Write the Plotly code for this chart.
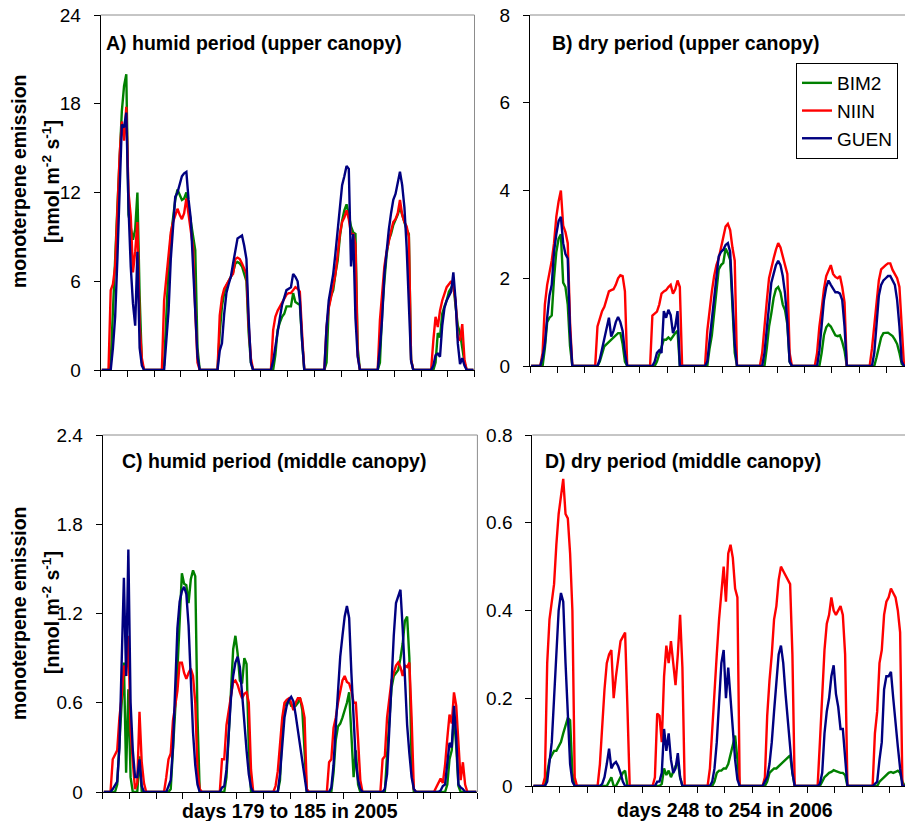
import plotly.graph_objects as go

W, H = 905, 821
FONT = "Liberation Sans, Arial, sans-serif"

SERIES = ["BIM2", "NIIN", "GUEN"]
COLORS = {"BIM2": "#008000", "NIIN": "#FF0000", "GUEN": "#000080"}
N_DAYS = 7
DAY_HOURS = list(range(4, 21))  # hours of each day whose (hourly-mean) values are listed; other hours are 0

# ---------------- Panel A: humid period, upper canopy (nmol m-2 s-1) ----------------
A_BIM2 = [
    [0.5, 4.5, 7.5, 11, 14, 17.5, 19.2, 20, 10.5, 9.5, 8.8, 9.5, 12, 5, 0.5, 0, 0],
    [0.3, 3.5, 7, 9, 10.5, 11.5, 12.2, 11.8, 11.5, 11.6, 12, 11, 10, 9, 8.1, 1.5, 0],
    [0, 2.5, 4.3, 5.2, 5.7, 6, 6.3, 6.6, 7.2, 7.3, 7.2, 7, 6.5, 6, 2.5, 0.5, 0],
    [0, 0, 1, 2.7, 3.2, 3.6, 3.8, 4.3, 4.3, 4.3, 5.2, 4.6, 4.5, 4.4, 2, 0, 0],
    [0, 0.5, 4.3, 5, 5.4, 6.5, 7.4, 9, 10.1, 10.8, 11.2, 10.5, 9.7, 9.3, 9.2, 1.5, 0],
    [0, 0.5, 4, 6, 7.8, 8.8, 9.2, 9.8, 10.1, 10.5, 11, 10.5, 9.9, 9.5, 9.2, 0.7, 0],
    [0, 0, 0.5, 2.5, 2.2, 3.8, 4.3, 4.7, 5.3, 5.6, 5.8, 4.3, 3, 2.5, 1.5, 0.5, 0],
]
A_NIIN = [
    [5.4, 5.8, 7, 11, 14.5, 16.8, 15.5, 17.8, 12, 10.4, 6.6, 8, 10, 3, 0.8, 0, 0],
    [4.7, 6.3, 8, 9.3, 10, 10.5, 10.9, 10.5, 10.2, 10.6, 11.6, 10.5, 9.5, 8.3, 4, 0.5, 0],
    [0, 3.7, 4.9, 5.5, 5.8, 6.1, 6.3, 6.5, 7.5, 7.6, 7.5, 7.2, 6.8, 6.5, 3, 0.8, 0],
    [0, 2.7, 3.6, 4, 4.3, 4.6, 4.8, 5.1, 5.2, 5.2, 5.4, 5.6, 5.5, 5.3, 2.5, 0, 0],
    [0, 2.9, 4.2, 4.9, 5.6, 6.5, 7.8, 9.2, 10, 10.3, 10.8, 10.2, 9.2, 9.2, 8.5, 1, 0],
    [0, 3.4, 5.5, 7, 8, 8.8, 9.4, 10, 10.2, 10.6, 11.5, 10.5, 10, 9.7, 9, 0.7, 0],
    [0, 2, 3.6, 2.9, 4, 4.7, 5.2, 5.6, 5.8, 6, 5.6, 4.7, 2.2, 2, 3.1, 0.7, 0],
]
A_GUEN = [
    [0, 1.5, 3.6, 7.5, 12, 16.6, 16.4, 17.4, 11, 7, 4.5, 3, 8, 1.5, 0.3, 0, 0],
    [0, 2, 4, 7.5, 10, 11.7, 12, 12.5, 13.1, 13.3, 13.4, 11.5, 10.2, 7, 3.5, 0.9, 0],
    [0, 1.3, 1.8, 3.8, 5.2, 5.8, 6.3, 7.2, 8.2, 8.9, 9, 9.1, 8.4, 7.5, 3.5, 0.5, 0],
    [0, 0.6, 1.6, 2.8, 3.5, 4.4, 4.9, 5.4, 5.5, 5.6, 6.5, 6.3, 6, 4.7, 2, 0, 0],
    [0, 2.9, 4.7, 5.6, 6.5, 7.9, 9.5, 11.2, 12.5, 13.1, 13.8, 13.6, 7, 9.2, 3.5, 0.9, 0],
    [0, 1.5, 3.5, 6.5, 8.3, 9.5, 10.6, 11.5, 11.9, 12.6, 13.4, 12.5, 11, 8.3, 5, 0.6, 0],
    [0, 0.3, 1, 1.1, 0.9, 3, 4.2, 4.7, 5, 5.3, 6.6, 4.7, 1.8, 0.4, 0.8, 0.3, 0],
]

# ---------------- Panel B: dry period, upper canopy ----------------
B_BIM2 = [
    [0, 0, 0.4, 1, 1.1, 1.15, 2, 2.6, 2.9, 3, 1.9, 1.8, 1.4, 0.45, 0, 0, 0],
    [0, 0, 0.1, 0.3, 0.45, 0.5, 0.55, 0.6, 0.67, 0.72, 0.75, 0.75, 0.5, 0.1, 0, 0, 0],
    [0, 0, 0, 0.1, 0.25, 0.45, 0.6, 0.6, 0.65, 0.6, 0.68, 0.75, 0.8, 0, 0, 0, 0],
    [0, 0, 0.4, 0.7, 1.2, 1.7, 2.2, 2.3, 2.35, 2.68, 2.57, 2.42, 1.5, 0.3, 0, 0, 0],
    [0, 0, 0, 0.4, 0.9, 1.2, 1.55, 1.75, 1.8, 1.68, 1.4, 1.27, 0.95, 0.1, 0, 0, 0],
    [0, 0, 0, 0.3, 0.7, 0.88, 0.95, 0.9, 0.78, 0.7, 0.68, 0.7, 0.55, 0.35, 0, 0, 0],
    [0, 0, 0, 0.2, 0.4, 0.65, 0.75, 0.76, 0.76, 0.72, 0.68, 0.6, 0.5, 0.3, 0.05, 0, 0],
]
B_NIIN = [
    [0, 0.3, 1.4, 1.85, 2.1, 2.4, 2.8, 3.4, 3.75, 4, 3.2, 3.05, 2.8, 1, 0, 0, 0],
    [0, 0.9, 1.1, 1.25, 1.35, 1.5, 1.7, 1.73, 1.75, 1.85, 2, 2.07, 2.05, 1.7, 0, 0, 0],
    [0, 1.15, 1.2, 1.24, 1.4, 1.65, 1.7, 1.73, 1.8, 1.85, 1.65, 1.75, 1.95, 1.8, 0, 0, 0],
    [0, 0.8, 1.3, 1.7, 2.05, 2.3, 2.45, 2.7, 2.95, 3.18, 3.24, 3.1, 2.7, 2.4, 0, 0, 0],
    [0, 0.3, 0.95, 1.47, 2, 2.25, 2.45, 2.65, 2.8, 2.7, 2.5, 2.35, 2.1, 0.3, 0, 0, 0],
    [0, 0.3, 0.9, 1.3, 1.75, 2.05, 2.2, 2.3, 2.1, 2.03, 2, 2.05, 1.8, 1.45, 0, 0, 0],
    [0, 0.4, 0.9, 1.4, 1.95, 2.2, 2.26, 2.3, 2.34, 2.34, 2.19, 2.1, 2, 1.8, 1, 0, 0],
]
B_GUEN = [
    [0, 0.2, 0.5, 1.1, 1.6, 1.85, 2.6, 3, 3.3, 3.4, 2.8, 2.55, 2.45, 0.8, 0, 0, 0],
    [0, 0, 0.15, 0.4, 0.6, 0.85, 1.1, 0.67, 0.8, 1, 1.12, 1, 0.8, 0.3, 0, 0, 0],
    [0, 0, 0.1, 0.3, 0.36, 0.3, 1.25, 1.1, 1.28, 1.16, 0.75, 0.9, 1.25, 0, 0, 0, 0],
    [0, 0.1, 0.6, 1.1, 1.55, 2, 2.5, 2.6, 2.65, 2.76, 2.8, 2.6, 1.5, 0.5, 0, 0, 0],
    [0, 0, 0.3, 0.8, 1.4, 1.9, 2.1, 2.3, 2.4, 2.3, 2.05, 1.65, 1, 0.1, 0, 0, 0],
    [0, 0, 0.35, 0.9, 1.5, 1.8, 1.95, 1.85, 1.75, 1.68, 1.68, 1.65, 1.5, 0.9, 0, 0, 0],
    [0, 0, 0.3, 1, 1.6, 1.85, 1.95, 2, 2.05, 2.05, 1.95, 1.85, 1.5, 0.9, 0.1, 0, 0],
]

# ---------------- Panel C: humid period, middle canopy ----------------
C_BIM2 = [
    [0, 0, 0.05, 0.3, 0.6, 0.87, 0.13, 0.69, 0.1, 0, 0, 0, 0.24, 0, 0, 0, 0],
    [0, 0, 0.02, 0.25, 0.55, 0.82, 1.2, 1.47, 1.4, 1.39, 1.27, 1.43, 1.49, 1.45, 0.5, 0, 0],
    [0, 0, 0, 0.1, 0.42, 0.64, 0.96, 1.05, 0.93, 0.75, 0.73, 0.9, 0.86, 0.3, 0, 0, 0],
    [0, 0, 0, 0.08, 0.42, 0.58, 0.6, 0.62, 0.58, 0.58, 0.58, 0.6, 0.63, 0.55, 0.3, 0, 0],
    [0, 0, 0, 0.13, 0.35, 0.44, 0.46, 0.5, 0.55, 0.6, 0.67, 0.4, 0.1, 0.28, 0.05, 0, 0],
    [0, 0, 0, 0.25, 0.5, 0.7, 0.78, 0.8, 0.82, 0.9, 1, 1.15, 1.18, 0.9, 0.2, 0, 0],
    [0, 0, 0, 0, 0, 0, 0.05, 0.22, 0.28, 0.51, 0.31, 0.04, 0, 0, 0, 0, 0],
]
C_NIIN = [
    [0.22, 0.25, 0.28, 0.5, 0.64, 0.85, 0.78, 1.05, 0.42, 0.2, 0.02, 0.06, 0.54, 0.2, 0.06, 0, 0],
    [0.1, 0.22, 0.26, 0.48, 0.58, 0.68, 0.87, 0.87, 0.8, 0.76, 0.8, 0.83, 0.78, 0.6, 0.15, 0.02, 0],
    [0, 0.22, 0.22, 0.45, 0.55, 0.67, 0.74, 0.75, 0.72, 0.67, 0.63, 0.66, 0.67, 0.6, 0.15, 0, 0],
    [0, 0.04, 0.14, 0.32, 0.5, 0.6, 0.62, 0.63, 0.6, 0.55, 0.6, 0.63, 0.63, 0.58, 0.5, 0.02, 0],
    [0, 0.2, 0.22, 0.43, 0.5, 0.6, 0.67, 0.75, 0.78, 0.74, 0.73, 0.68, 0.6, 0.6, 0.35, 0.08, 0],
    [0, 0.22, 0.24, 0.5, 0.62, 0.75, 0.8, 0.85, 0.87, 0.84, 0.78, 0.85, 0.84, 0.87, 0.5, 0.02, 0],
    [0, 0.03, 0.06, 0.09, 0.06, 0.18, 0.36, 0.52, 0.46, 0.67, 0.58, 0.3, 0.08, 0.2, 0.05, 0, 0],
]
C_GUEN = [
    [0.02, 0.05, 0.07, 0.3, 0.87, 1.44, 0.78, 1.63, 0.6, 0.28, 0.1, 0.1, 0.22, 0.04, 0, 0, 0],
    [0, 0.04, 0.08, 0.3, 0.7, 1.1, 1.28, 1.35, 1.38, 1.33, 1.12, 0.75, 0.4, 0.18, 0.05, 0, 0],
    [0, 0.03, 0.04, 0.15, 0.42, 0.63, 0.78, 0.87, 0.91, 0.84, 0.66, 0.45, 0.28, 0.12, 0.03, 0, 0],
    [0, 0, 0, 0.12, 0.33, 0.5, 0.58, 0.62, 0.64, 0.61, 0.52, 0.42, 0.31, 0.2, 0.1, 0, 0],
    [0, 0, 0.03, 0.18, 0.44, 0.66, 0.91, 1.05, 1.18, 1.25, 1.17, 0.8, 0.45, 0.2, 0.08, 0.02, 0],
    [0, 0, 0.02, 0.12, 0.42, 0.78, 1.05, 1.27, 1.31, 1.36, 1.1, 0.8, 0.45, 0.26, 0.1, 0.02, 0],
    [0, 0, 0, 0.01, 0.04, 0.05, 0.18, 0.33, 0.3, 0.58, 0.37, 0.05, 0.03, 0.02, 0, 0, 0],
]

# ---------------- Panel D: dry period, middle canopy ----------------
D_BIM2 = [
    [0, 0, 0.03, 0.06, 0.07, 0.08, 0.08, 0.09, 0.1, 0.12, 0.14, 0.155, 0.15, 0.03, 0, 0, 0],
    [0, 0, 0, 0, 0, 0.01, 0.02, 0, 0, 0.01, 0.02, 0.03, 0.035, 0, 0, 0, 0],
    [0, 0, 0, 0, 0.005, 0.04, 0.025, 0.035, 0.02, 0.035, 0.045, 0.055, 0.02, 0, 0, 0, 0],
    [0, 0, 0, 0.01, 0.03, 0.035, 0.035, 0.04, 0.04, 0.05, 0.07, 0.09, 0.115, 0.06, 0, 0, 0],
    [0, 0, 0.01, 0.03, 0.035, 0.04, 0.04, 0.045, 0.05, 0.055, 0.06, 0.065, 0.07, 0.03, 0, 0, 0],
    [0, 0, 0.01, 0.02, 0.025, 0.03, 0.032, 0.036, 0.034, 0.032, 0.03, 0.03, 0.025, 0, 0, 0, 0],
    [0, 0, 0, 0.01, 0.015, 0.02, 0.025, 0.03, 0.032, 0.03, 0.032, 0.035, 0.03, 0.01, 0, 0, 0],
]
D_NIIN = [
    [0, 0.02, 0.28, 0.38, 0.42, 0.46, 0.55, 0.62, 0.66, 0.7, 0.62, 0.61, 0.53, 0.4, 0.02, 0, 0],
    [0, 0.05, 0.15, 0.22, 0.28, 0.3, 0.31, 0.2, 0.25, 0.29, 0.33, 0.34, 0.35, 0.18, 0, 0, 0],
    [0, 0.02, 0.165, 0.16, 0.1, 0.25, 0.32, 0.28, 0.33, 0.28, 0.23, 0.3, 0.39, 0.27, 0, 0, 0],
    [0, 0.04, 0.13, 0.23, 0.3, 0.38, 0.44, 0.5, 0.42, 0.53, 0.55, 0.52, 0.45, 0.43, 0, 0, 0],
    [0, 0.02, 0.16, 0.24, 0.3, 0.38, 0.41, 0.47, 0.5, 0.49, 0.48, 0.47, 0.46, 0.3, 0, 0, 0],
    [0, 0.1, 0.2, 0.31, 0.37, 0.39, 0.43, 0.4, 0.39, 0.4, 0.41, 0.39, 0.3, 0, 0, 0, 0],
    [0, 0.12, 0.17, 0.28, 0.31, 0.39, 0.42, 0.43, 0.45, 0.44, 0.43, 0.4, 0.35, 0, 0, 0, 0],
]
D_GUEN = [
    [0, 0, 0.01, 0.05, 0.1, 0.2, 0.3, 0.4, 0.44, 0.42, 0.28, 0.15, 0.05, 0.01, 0, 0, 0],
    [0, 0, 0.005, 0.02, 0.05, 0.085, 0.04, 0.05, 0.055, 0.045, 0.03, 0.01, 0, 0, 0, 0, 0],
    [0, 0, 0.01, 0.01, 0.03, 0.13, 0.08, 0.12, 0.06, 0.03, 0.04, 0.075, 0.02, 0, 0, 0, 0],
    [0, 0, 0.01, 0.04, 0.1, 0.2, 0.28, 0.31, 0.2, 0.27, 0.2, 0.11, 0.06, 0.015, 0, 0, 0],
    [0, 0.01, 0.02, 0.05, 0.1, 0.17, 0.23, 0.3, 0.32, 0.28, 0.21, 0.15, 0.09, 0.03, 0, 0, 0],
    [0, 0.005, 0.03, 0.12, 0.17, 0.2, 0.25, 0.275, 0.21, 0.18, 0.13, 0.13, 0.06, 0, 0, 0, 0],
    [0, 0.005, 0.01, 0.06, 0.1, 0.22, 0.25, 0.25, 0.26, 0.2, 0.14, 0.09, 0.04, 0, 0, 0, 0],
]

# tick values / labels
A_YTICKS = [0, 6, 12, 18, 24]
B_YTICKS = [0, 2, 4, 6, 8]
C_YTICKS = [0, 0.6, 1.2, 1.8, 2.4]
D_YTICKS = [0, 0.2, 0.4, 0.6, 0.8]
PANEL_TITLES = ["A) humid period (upper canopy)", "B) dry period (upper canopy)",
                "C) humid period (middle canopy)", "D) dry period (middle canopy)"]
X_TITLES = ["days 179 to 185 in 2005", "days 248 to 254 in 2006"]
Y_TITLE_1 = "monoterpene emission"
Y_TITLE_2 = "[nmol m<sup>-2</sup> s<sup>-1</sup>]"


def expand(days):
    vals = [0.0] * (N_DAYS * 24)
    for d, day in enumerate(days):
        for h, v in zip(DAY_HOURS, day):
            vals[d * 24 + h] = v
    return vals


HOURS_X = [i + 0.5 for i in range(N_DAYS * 24)]


def px(x):
    return x / W


def py(y):
    return 1 - y / H


# layout boxes in pixels: (left, right, top, bottom), visible x-range end in hours
panels = [
    dict(data={"BIM2": A_BIM2, "NIIN": A_NIIN, "GUEN": A_GUEN}, ticks=A_YTICKS,
         box=(100.7, 474.5, 15, 370), xend=168, right=True, title=PANEL_TITLES[0], tpos=(104, 43)),
    dict(data={"BIM2": B_BIM2, "NIIN": B_NIIN, "GUEN": B_GUEN}, ticks=B_YTICKS,
         box=(530, 905, 15, 366), xend=(905 - 530) / 2.2875, right=False, title=PANEL_TITLES[1], tpos=(550, 43)),
    dict(data={"BIM2": C_BIM2, "NIIN": C_NIIN, "GUEN": C_GUEN}, ticks=C_YTICKS,
         box=(102.7, 477.4, 435, 792), xend=168, right=True, title=PANEL_TITLES[2], tpos=(120, 461)),
    dict(data={"BIM2": D_BIM2, "NIIN": D_NIIN, "GUEN": D_GUEN}, ticks=D_YTICKS,
         box=(532.3, 905, 435, 786), xend=(905 - 532.3) / 2.2917, right=False, title=PANEL_TITLES[3], tpos=(543, 461)),
]

fig = go.Figure()
layout = dict(
    width=W, height=H, margin=dict(l=0, r=0, t=0, b=0, pad=0, autoexpand=False),
    paper_bgcolor="white", plot_bgcolor="white",
    font=dict(family=FONT, color="black"),
    showlegend=True,
    legend=dict(x=px(796), y=py(63), xanchor="left", yanchor="top",
                bgcolor="white", bordercolor="black", borderwidth=1,
                font=dict(family=FONT, size=19, color="black"),
                tracegroupgap=0, traceorder="grouped"),
)
shapes = []
annotations = []

for i, p in enumerate(panels):
    n = i + 1
    xa = "x" if n == 1 else f"x{n}"
    ya = "y" if n == 1 else f"y{n}"
    for s in SERIES:
        fig.add_trace(go.Scatter(
            x=HOURS_X, y=expand(p["data"][s]), mode="lines", name=s,
            line=dict(color=COLORS[s], width=2.4),
            xaxis=xa, yaxis=ya, legendgroup=s, showlegend=(n == 1),
            hoverinfo="skip"))
    l, r, t, b = p["box"]
    layout[f"xaxis{'' if n == 1 else n}"] = dict(
        domain=[px(l), px(r)], range=[0, p["xend"]], anchor=ya, automargin=False,
        showticklabels=False, ticks="outside", ticklen=6, tickcolor="#000",
        tick0=0, dtick=12, showline=True, linecolor="#000", linewidth=1,
        showgrid=False, zeroline=False, fixedrange=True)
    layout[f"yaxis{'' if n == 1 else n}"] = dict(
        domain=[py(b), py(t)], range=[0, p["ticks"][-1]], anchor=xa, automargin=False,
        tickmode="array", tickvals=p["ticks"], ticks="outside", ticklen=6,
        tickcolor="#000", ticklabelstandoff=9,
        tickfont=dict(family=FONT, size=19, color="black"),
        showline=True, linecolor="#000", linewidth=1,
        showgrid=False, zeroline=False, fixedrange=True)
    # gray frame on top (and on the right where it is visible)
    shapes.append(dict(type="line", xref=f"{xa} domain", yref=f"{ya} domain",
                       x0=0, x1=1, y0=1, y1=1, line=dict(color="#8c8c8c", width=1)))
    if p["right"]:
        shapes.append(dict(type="line", xref=f"{xa} domain", yref=f"{ya} domain",
                           x0=1, x1=1, y0=0, y1=1, line=dict(color="#8c8c8c", width=1)))
    tx, ty = p["tpos"]
    annotations.append(dict(text=f"<b>{p['title']}</b>", xref="paper", yref="paper",
                            x=px(tx), y=py(ty), xanchor="left", yanchor="middle",
                            showarrow=False, font=dict(family=FONT, size=19.5, color="black")))

# y-axis titles (two lines each)
for yc1, yc2 in [(182, 182), (614, 613)]:
    annotations.append(dict(text=f"<b>{Y_TITLE_1}</b>", xref="paper", yref="paper",
                            x=px(19), y=py(yc1), xanchor="center", yanchor="middle",
                            textangle=-90, showarrow=False,
                            font=dict(family=FONT, size=19.5, color="black")))
    annotations.append(dict(text=f"<b>{Y_TITLE_2}</b>", xref="paper", yref="paper",
                            x=px(51), y=py(yc2), xanchor="center", yanchor="middle",
                            textangle=-90, showarrow=False,
                            font=dict(family=FONT, size=19.5, color="black")))

# x-axis titles
for xt, (xc, yc) in zip(X_TITLES, [(290, 811), (725, 810)]):
    annotations.append(dict(text=f"<b>{xt}</b>", xref="paper", yref="paper",
                            x=px(xc), y=py(yc), xanchor="center", yanchor="middle",
                            showarrow=False, font=dict(family=FONT, size=19.5, color="black")))

layout["shapes"] = shapes
layout["annotations"] = annotations
fig.update_layout(**layout)
fig.write_html("out.html",
               config={"displayModeBar": False},
               post_script="document.body.style.margin='0px';document.body.style.padding='0px';")
